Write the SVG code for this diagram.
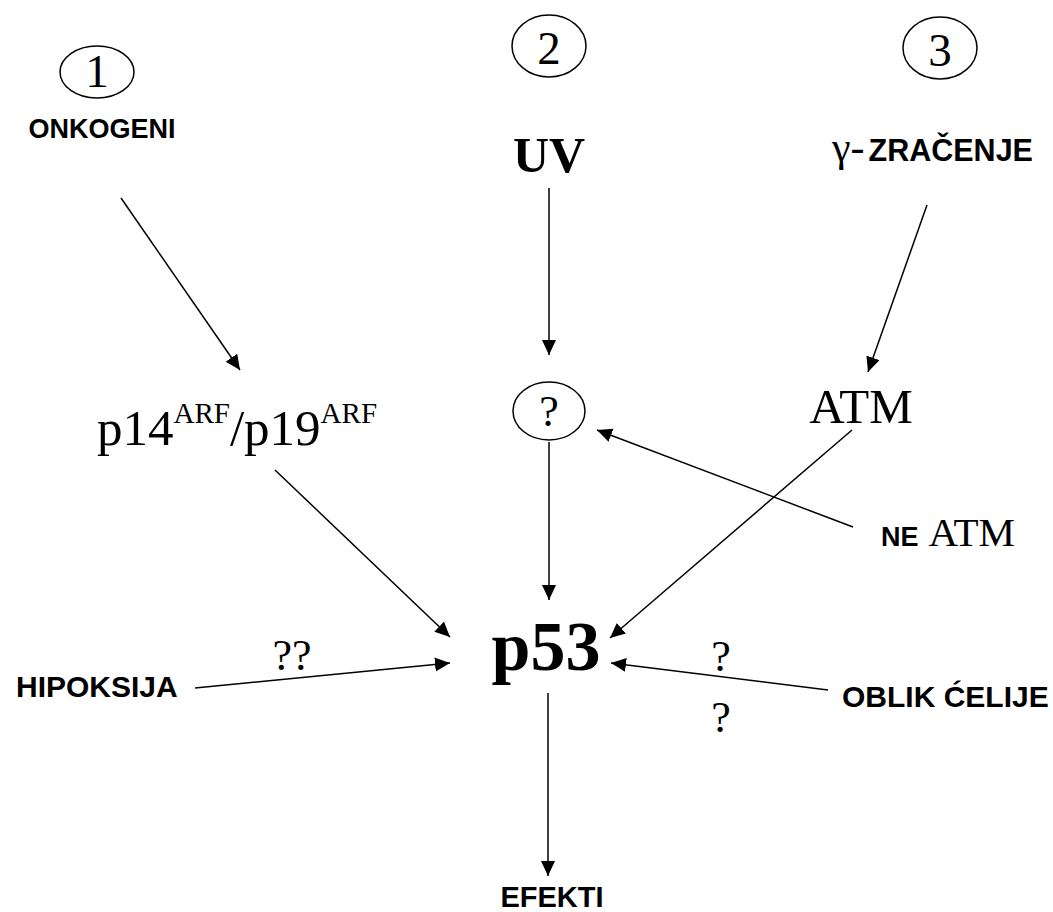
<svg xmlns="http://www.w3.org/2000/svg" width="1053" height="912" viewBox="0 0 1053 912">
<style>
.ser{font-family:"Liberation Serif","Times New Roman",serif;fill:#000}
.san{font-family:"Liberation Sans",Arial,sans-serif;font-weight:bold;fill:#000}
.ell{fill:none;stroke:#000;stroke-width:1.5}
.con line{stroke:#000;stroke-width:1.5;marker-end:url(#ah)}
</style>
<defs>
<marker id="ah" markerUnits="userSpaceOnUse" markerWidth="16" markerHeight="15" refX="15" refY="7" orient="auto">
<path d="M0,0 L15,7 L0,14 z" fill="#000"/>
</marker>
</defs>
<rect width="1053" height="912" fill="#fff"/>
<g id="n1">
<ellipse class="ell" cx="97" cy="72" rx="37" ry="26"/>
<text class="ser" x="97" y="87" font-size="47" text-anchor="middle">1</text>
</g>
<g id="n2">
<ellipse class="ell" cx="549" cy="46" rx="37" ry="31"/>
<text class="ser" x="549" y="64" font-size="47" text-anchor="middle">2</text>
</g>
<g id="n3">
<ellipse class="ell" cx="940" cy="48" rx="37" ry="31"/>
<text class="ser" x="940" y="66" font-size="47" text-anchor="middle">3</text>
</g>
<g id="onkogeni">
<text class="san" x="102" y="138" font-size="27" text-anchor="middle">ONKOGENI</text>
</g>
<g id="uv">
<text class="ser" x="549" y="172" font-size="50" font-weight="bold" text-anchor="middle">UV</text>
</g>
<g id="zracenje">
<text x="832" y="161"><tspan class="ser" font-size="42">γ-</tspan><tspan class="san" font-size="30.5" dx="4">ZRAČENJE</tspan></text>
</g>
<g id="p14">
<text class="ser" x="97" y="445" font-size="51">p14<tspan font-size="29" dy="-22">ARF</tspan><tspan dy="22">/p19</tspan><tspan font-size="29" dy="-22">ARF</tspan></text>
</g>
<g id="q">
<ellipse class="ell" cx="549" cy="411" rx="36" ry="29"/>
<text class="ser" x="549" y="426" font-size="44" text-anchor="middle">?</text>
</g>
<g id="atm">
<text class="ser" x="861" y="423" font-size="49" text-anchor="middle">ATM</text>
</g>
<g id="neatm">
<text x="881" y="546"><tspan class="san" font-size="27">NE</tspan><tspan class="ser" font-size="41" dx="10">ATM</tspan></text>
</g>
<g id="p53">
<text class="ser" x="546" y="670" font-size="70" font-weight="bold" text-anchor="middle">p53</text>
</g>
<g id="hipoksija">
<text class="san" x="16" y="697" font-size="30">HIPOKSIJA</text>
</g>
<g id="oblik">
<text class="san" x="842" y="707" font-size="30">OBLIK ĆELIJE</text>
</g>
<g id="efekti">
<text class="san" x="552" y="907" font-size="29" text-anchor="middle">EFEKTI</text>
</g>
<g id="labels">
<text class="ser" x="292" y="670" font-size="44" text-anchor="middle">??</text>
<text class="ser" x="721" y="671" font-size="44" text-anchor="middle">?</text>
<text class="ser" x="721" y="732" font-size="44" text-anchor="middle">?</text>
</g>
<g class="con" id="connectors">
<line x1="121" y1="198" x2="240" y2="370"/>
<line x1="549" y1="188" x2="549" y2="355"/>
<line x1="927" y1="205" x2="868" y2="372"/>
<line x1="275" y1="470" x2="450" y2="637"/>
<line x1="549" y1="442" x2="549" y2="600"/>
<line x1="852" y1="430" x2="610" y2="638"/>
<line x1="853" y1="527" x2="597" y2="430"/>
<line x1="195" y1="688" x2="450" y2="663"/>
<line x1="828" y1="690" x2="611" y2="663"/>
<line x1="548" y1="693" x2="548" y2="876"/>
</g>
</svg>
